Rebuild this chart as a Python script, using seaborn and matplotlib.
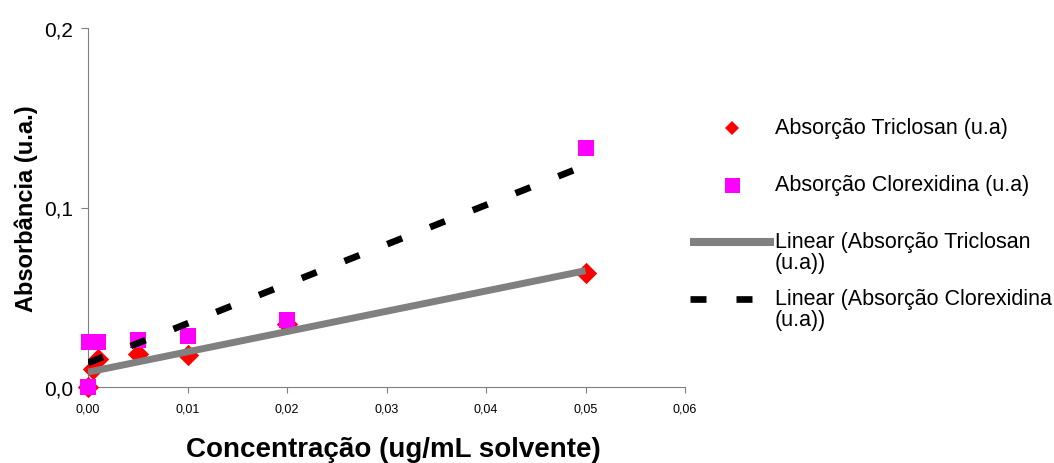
import numpy as np
import matplotlib
matplotlib.use("Agg")
import matplotlib.pyplot as plt
from matplotlib.lines import Line2D
from matplotlib.legend_handler import HandlerLine2D
import seaborn as sns

# Concentration (ug/mL solvent) and absorbance (u.a.) for each compound
conc_triclosan = [0.0, 0.0005, 0.001, 0.005, 0.01, 0.02, 0.05]
abs_triclosan = [0.0, 0.010, 0.0155, 0.0185, 0.018, 0.035, 0.0633]
conc_clorexidina = [0.0, 0.0001, 0.001, 0.005, 0.01, 0.02, 0.05]
abs_clorexidina = [0.0, 0.0253, 0.0253, 0.0263, 0.0286, 0.0375, 0.133]

# Linear trend lines, evaluated at both ends of the concentration range
trend_conc = [0.0, 0.05]
trend_triclosan = [0.0083, 0.0648]
trend_clorexidina = [0.0134, 0.1234]

x_ticks = [0.00, 0.01, 0.02, 0.03, 0.04, 0.05, 0.06]
x_tick_labels = ["0,00", "0,01", "0,02", "0,03", "0,04", "0,05", "0,06"]
y_ticks = [0.0, 0.1, 0.2]
y_tick_labels = ["0,0", "0,1", "0,2"]

series_labels = [
    "Absorção Triclosan (u.a)",
    "Absorção Clorexidina (u.a)",
    "Linear (Absorção Triclosan\n(u.a))",
    "Linear (Absorção Clorexidina\n(u.a))",
]

RED = "#FF0000"
MAGENTA = "#FF00FF"
GRAY = "#808080"

sns.set_style("ticks")
plt.rcParams["font.family"] = ["Liberation Sans", "DejaVu Sans"]
plt.rcParams["text.color"] = "black"
plt.rcParams["axes.labelcolor"] = "black"

fig = plt.figure(figsize=(10.54, 4.64), dpi=100)
ax = fig.add_axes([88 / 1054, 76 / 464, 597 / 1054, 359 / 464])

sns.scatterplot(x=conc_triclosan, y=abs_triclosan, marker="D", s=118,
                color=RED, linewidth=0, ax=ax, zorder=3, legend=False)
sns.scatterplot(x=conc_clorexidina, y=abs_clorexidina, marker="s", s=130,
                color=MAGENTA, linewidth=0, ax=ax, zorder=4, legend=False)
sns.lineplot(x=trend_conc, y=trend_triclosan, color=GRAY, linewidth=5.0,
             solid_capstyle="butt", ax=ax, zorder=5, legend=False)
sns.lineplot(x=trend_conc, y=trend_clorexidina, color="black", linewidth=4.8,
             linestyle=(0, (2.4, 4.5)), dash_capstyle="butt", ax=ax,
             zorder=6, legend=False)

ax.set_xlim(0, 0.06)
ax.set_ylim(0, 0.2)
ax.set_xticks(x_ticks)
ax.set_xticklabels(x_tick_labels)
ax.set_yticks(y_ticks)
ax.set_yticklabels(y_tick_labels)
ax.tick_params(axis="x", direction="out", length=4.5, width=0.8, color=GRAY,
               labelsize=9, pad=7, labelcolor="black")
ax.tick_params(axis="y", direction="out", length=4.8, width=0.8, color=GRAY,
               labelsize=15, pad=6, labelcolor="black")
for side in ("top", "right"):
    ax.spines[side].set_visible(False)
for side in ("left", "bottom"):
    ax.spines[side].set_color(GRAY)
    ax.spines[side].set_linewidth(0.8)
ax.spines["left"].set_zorder(1)
ax.spines["bottom"].set_zorder(1)
for coll in ax.collections:
    coll.set_clip_on(False)

ax.set_xlabel("Concentração (ug/mL solvente)", fontsize=20, fontweight="bold",
              labelpad=15)
ax.xaxis.label.set_x(0.5 + 7 / 597)
ax.set_ylabel("Absorbância (u.a.)", fontsize=17, fontweight="bold", labelpad=4)


class FirstLineHandler(HandlerLine2D):
    """Places the legend key beside the first line of a two-line label."""

    def __init__(self, lift, **kw):
        super().__init__(**kw)
        self.lift = lift

    def create_artists(self, legend, orig_handle, xdescent, ydescent, width,
                       height, fontsize, trans):
        artists = super().create_artists(legend, orig_handle, xdescent,
                                         ydescent, width, height, fontsize,
                                         trans)
        for art in artists:
            art.set_ydata(np.asarray(art.get_ydata()) + self.lift)
        return artists


handles = [
    Line2D([], [], linestyle="none", marker="D", markersize=7.6,
           markerfacecolor=RED, markeredgewidth=0),
    Line2D([], [], linestyle="none", marker="s", markersize=10.8,
           markerfacecolor=MAGENTA, markeredgewidth=0),
    Line2D([], [], color=GRAY, linewidth=5.8, solid_capstyle="butt"),
    Line2D([], [], color="black", linewidth=4.8, linestyle=(0, (2.4, 4.5)),
           dash_capstyle="butt"),
]
legend_labels = [lab if "\n" in lab else lab + "\n" for lab in series_labels]
handler = FirstLineHandler(lift=7.3, numpoints=1)
leg = fig.legend(handles, legend_labels, loc="upper left",
                 bbox_to_anchor=(690 / 1054, 1 - 118 / 464),
                 frameon=False, fontsize=15.5, handlelength=3.9,
                 handletextpad=0.05, borderpad=0, borderaxespad=0,
                 labelspacing=0.69, handler_map={h: handler for h in handles})
for txt in leg.get_texts():
    txt.set_linespacing(1.0)

fig.savefig("out.png", dpi=100)
